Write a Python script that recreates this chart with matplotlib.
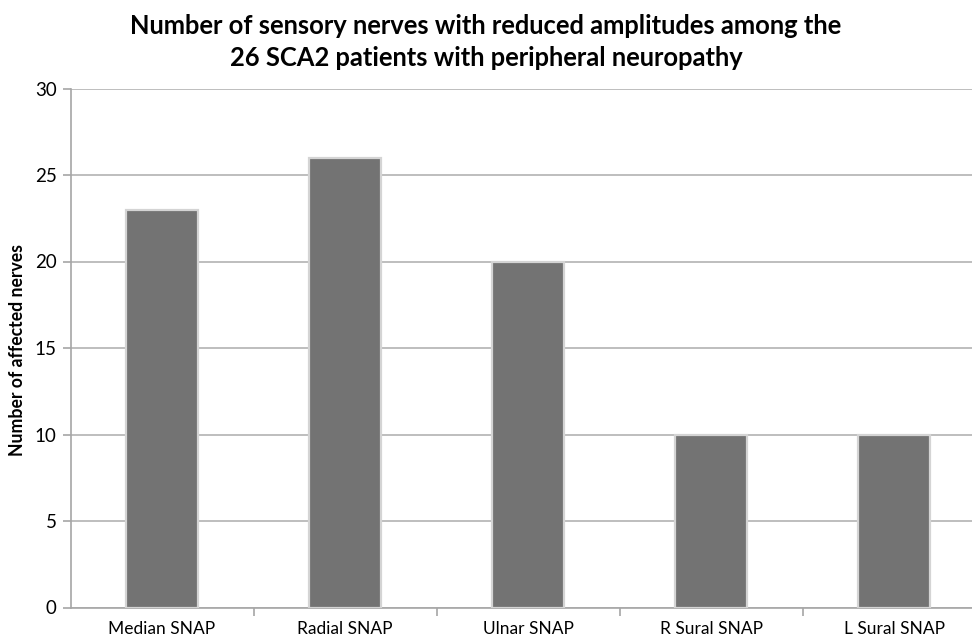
import matplotlib
matplotlib.use("Agg")
import matplotlib.pyplot as plt
from matplotlib.ticker import FixedLocator

categories = ["Median SNAP", "Radial SNAP", "Ulnar SNAP", "R Sural SNAP", "L Sural SNAP"]
values = [23, 26, 20, 10, 10]
yticks = [0, 5, 10, 15, 20, 25, 30]

plt.rcParams['font.family'] = ['Lato', 'DejaVu Sans']

W, H = 972, 640
fig = plt.figure(figsize=(W / 100, H / 100), dpi=100)
left, right, top, bottom = 70.5, 985.5, 88.5, 607.5
ax = fig.add_axes([left / W, 1 - bottom / H, (right - left) / W, (bottom - top) / H])

x = list(range(len(categories)))
ax.bar(x, values, width=0.39, color="#737373", edgecolor="#d4d4d4", linewidth=1.6, zorder=3)

ax.set_xlim(-0.5, len(categories) - 0.5)
ax.set_ylim(0, 30)
ax.set_yticks(yticks)
ax.set_yticklabels([str(t) for t in yticks], fontsize=13.5)
ax.yaxis.grid(True, color="#b3b3b3", linewidth=1.2, zorder=0)
ax.set_axisbelow(True)

ax.set_xticks(x)
ax.set_xticklabels(categories, fontsize=12.5)
ax.tick_params(axis="x", which="major", length=0, pad=10)
ax.xaxis.set_minor_locator(FixedLocator([i + 0.5 for i in range(len(categories) - 1)]))
ax.tick_params(axis="x", which="minor", length=6, color="#a6a6a6", width=1.2)
ax.tick_params(axis="y", length=6, color="#a6a6a6", width=1.2, pad=4)

for s in ["top", "right"]:
    ax.spines[s].set_visible(False)
for s in ["left", "bottom"]:
    ax.spines[s].set_color("#a6a6a6")
    ax.spines[s].set_linewidth(1.2)

fig.text(18 / W, 1 - 350 / H, "Number of affected nerves", rotation=90,
         ha="center", va="center", fontsize=12.7, fontweight="bold")

fig.text(486 / W, 1 - 42 / H,
         "Number of sensory nerves with reduced amplitudes among the\n26 SCA2 patients with peripheral neuropathy",
         ha="center", va="center", fontsize=18.4, fontweight="bold", linespacing=1.4)

fig.savefig("out.png", dpi=100)
